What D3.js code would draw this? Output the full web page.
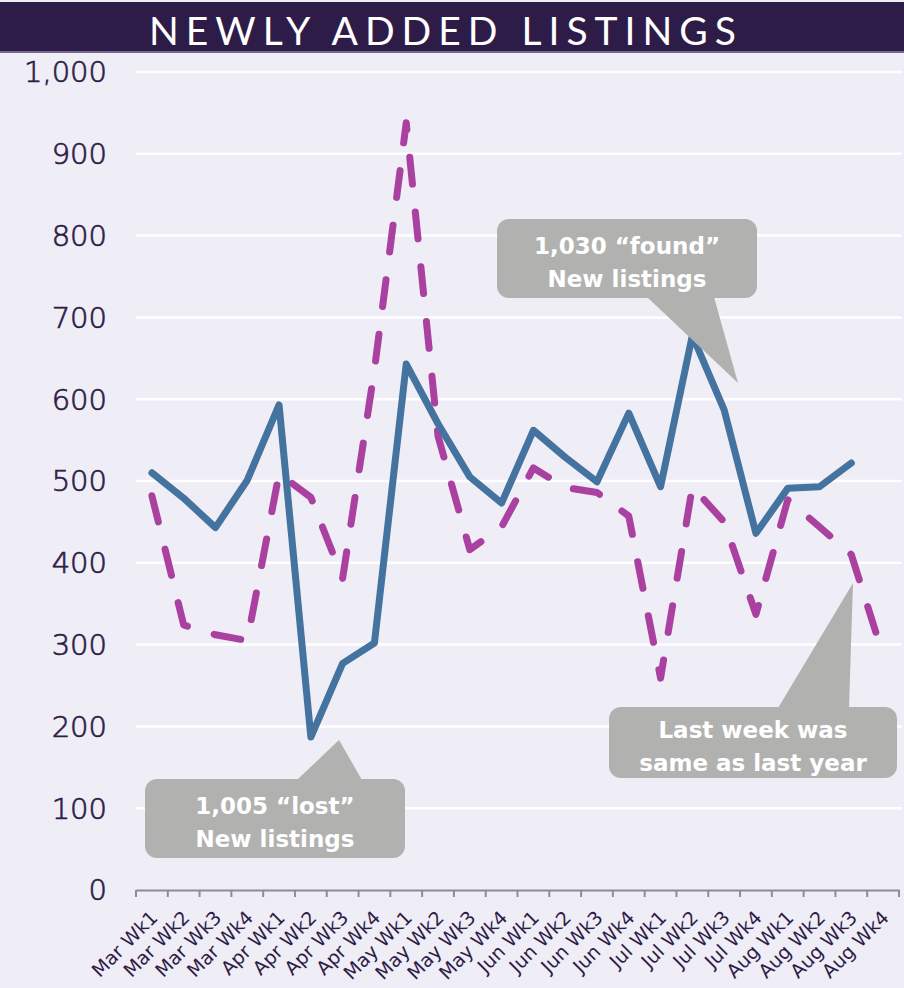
<!DOCTYPE html>
<html>
<head>
<meta charset="utf-8">
<script src="https://cdn.jsdelivr.net/npm/d3@7"></script>
<style>
  body { margin: 0; background: #efedf5; }
  svg { display: block; }
</style>
</head>
<body>
<script>
// data
const weeks = ["Mar Wk1", "Mar Wk2", "Mar Wk3", "Mar Wk4", "Apr Wk1", "Apr Wk2", "Apr Wk3", "Apr Wk4",
  "May Wk1", "May Wk2", "May Wk3", "May Wk4", "Jun Wk1", "Jun Wk2", "Jun Wk3", "Jun Wk4",
  "Jul Wk1", "Jul Wk2", "Jul Wk3", "Jul Wk4", "Aug Wk1", "Aug Wk2", "Aug Wk3", "Aug Wk4"];
const thisYear = [510, 479, 443, 501, 593, 187, 277, 302, 643, 570, 505, 473, 562, 529, 499, 583,
  493, 678, 587, 436, 491, 493, 522, null];
const lastYear = [482, 324, 312, 305, 509, 480, 381, 636, 938, 555, 416, 444, 516, 492, 486, 457,
  259, 493, 450, 337, 477, 444, 410, 287];
const yTicks = [0, 100, 200, 300, 400, 500, 600, 700, 800, 900, 1000];
const callouts = [
  { lines: ["1,030 \u201cfound\u201d", "New listings"], box: [497, 219, 260, 79], tri: [[647, 297], [714, 297], [738, 383]] },
  { lines: ["1,005 \u201clost\u201d", "New listings"], box: [145, 779, 260, 79], tri: [[297, 780], [362, 780], [339, 740]] },
  { lines: ["Last week was", "same as last year"], box: [609, 707, 288, 71], tri: [[778, 708], [849, 708], [853, 583]] }
];

const width = 904, height = 988;
const purple = "#2e1c48";

const svg = d3.select("body").append("svg")
  .attr("width", width)
  .attr("height", height);

svg.append("rect").attr("width", width).attr("height", height).attr("fill", "#efedf5");

// title bar
svg.append("rect").attr("x", 0).attr("y", 2).attr("width", width).attr("height", 50).attr("fill", purple);
svg.append("rect").attr("x", 0).attr("y", 51).attr("width", width).attr("height", 2).attr("fill", "#76678f");
svg.append("text")
  .attr("x", 446).attr("y", 45)
  .attr("text-anchor", "middle")
  .attr("fill", "#ffffff")
  .attr("font-family", "Lato, sans-serif")
  .attr("font-size", "39px")
  .attr("letter-spacing", "7px")
  .text("NEWLY ADDED LISTINGS");

const x = d3.scaleBand().domain(weeks).range([136, 899]);
const y = d3.scaleLinear().domain([0, 1000]).range([890, 72]);

// grid lines
svg.append("g")
  .selectAll("line")
  .data(yTicks.filter(d => d > 0))
  .join("line")
  .attr("x1", 136).attr("x2", 902)
  .attr("y1", d => y(d)).attr("y2", d => y(d))
  .attr("stroke", "#ffffff")
  .attr("stroke-width", 2.5);

// y labels
svg.append("g")
  .selectAll("text")
  .data(yTicks)
  .join("text")
  .attr("x", 107)
  .attr("y", d => y(d))
  .attr("dy", "0.36em")
  .attr("text-anchor", "end")
  .attr("fill", purple)
  .attr("stroke", purple)
  .attr("stroke-width", 0.7)
  .attr("font-family", "'DejaVu Sans', sans-serif")
  .attr("font-weight", 300)
  .attr("font-size", "29px")
  .text(d => d3.format(",")(d));

// x axis
const xAxis = svg.append("g")
  .attr("transform", "translate(0,890)")
  .call(d3.axisBottom(x).tickSize(0));
xAxis.select(".domain").attr("stroke", "#8f8b98").attr("stroke-width", 2);
xAxis.selectAll(".tick line").remove();
xAxis.selectAll(".edge")
  .data(d3.range(weeks.length + 1))
  .join("line")
  .attr("x1", i => 136 + i * x.bandwidth())
  .attr("x2", i => 136 + i * x.bandwidth())
  .attr("y1", 0).attr("y2", 7)
  .attr("stroke", "#8f8b98")
  .attr("stroke-width", 2);
xAxis.selectAll(".tick text")
  .attr("fill", purple)
  .attr("font-family", "'DejaVu Sans', sans-serif")
  .attr("font-size", "19px")
  .attr("text-anchor", "end")
  .attr("x", 0).attr("y", 0).attr("dy", 0)
  .attr("transform", "translate(7,29) rotate(-45)");

// lines
const lineGen = d3.line()
  .defined(d => d != null)
  .x((d, i) => x(weeks[i]) + x.bandwidth() / 2)
  .y(d => y(d));

svg.append("path")
  .datum(lastYear)
  .attr("d", lineGen)
  .attr("fill", "none")
  .attr("stroke", "#aa41a0")
  .attr("stroke-width", 7)
  .attr("stroke-linecap", "round")
  .attr("stroke-linejoin", "round")
  .attr("stroke-dasharray", "27,28");

svg.append("path")
  .datum(thisYear)
  .attr("d", lineGen)
  .attr("fill", "none")
  .attr("stroke", "#44739f")
  .attr("stroke-width", 7)
  .attr("stroke-linecap", "round")
  .attr("stroke-linejoin", "round");

// callouts
const co = svg.append("g").selectAll("g").data(callouts).join("g");
co.append("path")
  .attr("d", d => "M" + d.tri.join("L") + "Z")
  .attr("fill", "#b1b2b0");
co.append("rect")
  .attr("x", d => d.box[0]).attr("y", d => d.box[1])
  .attr("width", d => d.box[2]).attr("height", d => d.box[3])
  .attr("rx", 12)
  .attr("fill", "#b1b2b0");
co.each(function (d) {
  const g = d3.select(this);
  d.lines.forEach((t, i) => {
    g.append("text")
      .attr("x", d.box[0] + d.box[2] / 2)
      .attr("y", d.box[1] + d.box[3] / 2 + (i === 0 ? -5 : 28))
      .attr("text-anchor", "middle")
      .attr("fill", "#ffffff")
      .attr("font-family", "'DejaVu Sans', sans-serif")
      .attr("font-weight", "bold")
      .attr("font-size", "23px")
      .text(t);
  });
});
</script>
</body>
</html>
